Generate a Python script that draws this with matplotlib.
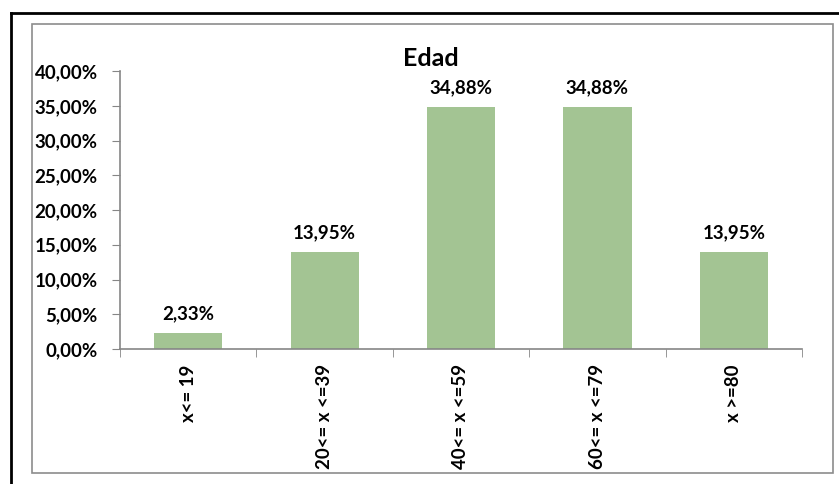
import matplotlib.pyplot as plt
from matplotlib.lines import Line2D
from matplotlib.patches import Rectangle
from matplotlib.ticker import FuncFormatter

# Datos
categorias = ['x<= 19', '20<= x <=39', '40<= x <=59', '60<= x <=79', 'x >=80']
porcentajes = [2.33, 13.95, 34.88, 34.88, 13.95]
ticks_y = [0, 5, 10, 15, 20, 25, 30, 35, 40]

plt.rcParams['font.family'] = ['Lato', 'DejaVu Sans']

W, H = 839, 484
fig = plt.figure(figsize=(W / 100, H / 100), dpi=100)

# Marco exterior negro y borde gris del gráfico
fig.add_artist(Line2D([11 / W, 1], [1 - 13 / H] * 2, color='black', lw=2, transform=fig.transFigure))
fig.add_artist(Line2D([11 / W] * 2, [0, 1 - 13 / H], color='black', lw=2, transform=fig.transFigure))
fig.add_artist(Rectangle((32 / W, 1 - 473 / H), (833 - 32) / W, (473 - 24) / H,
                         fill=False, edgecolor='#8c8c8c', lw=1.2, transform=fig.transFigure))

ax = fig.add_axes([120 / W, 1 - 349 / H, (802 - 120) / W, (349 - 71) / H])
x = range(len(categorias))
barras = ax.bar(x, porcentajes, width=0.5, color='#a3c493', zorder=2)

for b, v in zip(barras, porcentajes):
    ax.text(b.get_x() + b.get_width() / 2, v + 1.5, f'{v:.2f}%'.replace('.', ','),
            ha='center', va='bottom', fontsize=13.5, fontweight='bold')

ax.set_xlim(-0.5, len(categorias) - 0.5)
ax.set_ylim(0, 40)
ax.set_yticks(ticks_y)
ax.yaxis.set_major_formatter(FuncFormatter(lambda v, p: f'{v:.2f}%'.replace('.', ',')))
ax.set_xticks(x)
ax.set_xticklabels(categorias, rotation=90, va='top', ha='center', fontweight='bold', fontsize=13.4)
ax.set_xticks([i - 0.5 for i in range(len(categorias) + 1)], minor=True)
ax.tick_params(axis='x', which='major', length=0, pad=11)
ax.tick_params(axis='x', which='minor', length=6, color='#868686', direction='out')
ax.tick_params(axis='y', length=6, color='#868686', labelsize=13.5, pad=10)
for lbl in ax.get_yticklabels():
    lbl.set_fontweight('bold')

for s in ['top', 'right']:
    ax.spines[s].set_visible(False)
for s in ['left', 'bottom']:
    ax.spines[s].set_color('#868686')
    ax.spines[s].set_linewidth(1.2)

fig.text(431 / W, 1 - 58 / H, 'Edad', ha='center', va='center', fontsize=18, fontweight='bold')

fig.savefig('out.png', dpi=100)
